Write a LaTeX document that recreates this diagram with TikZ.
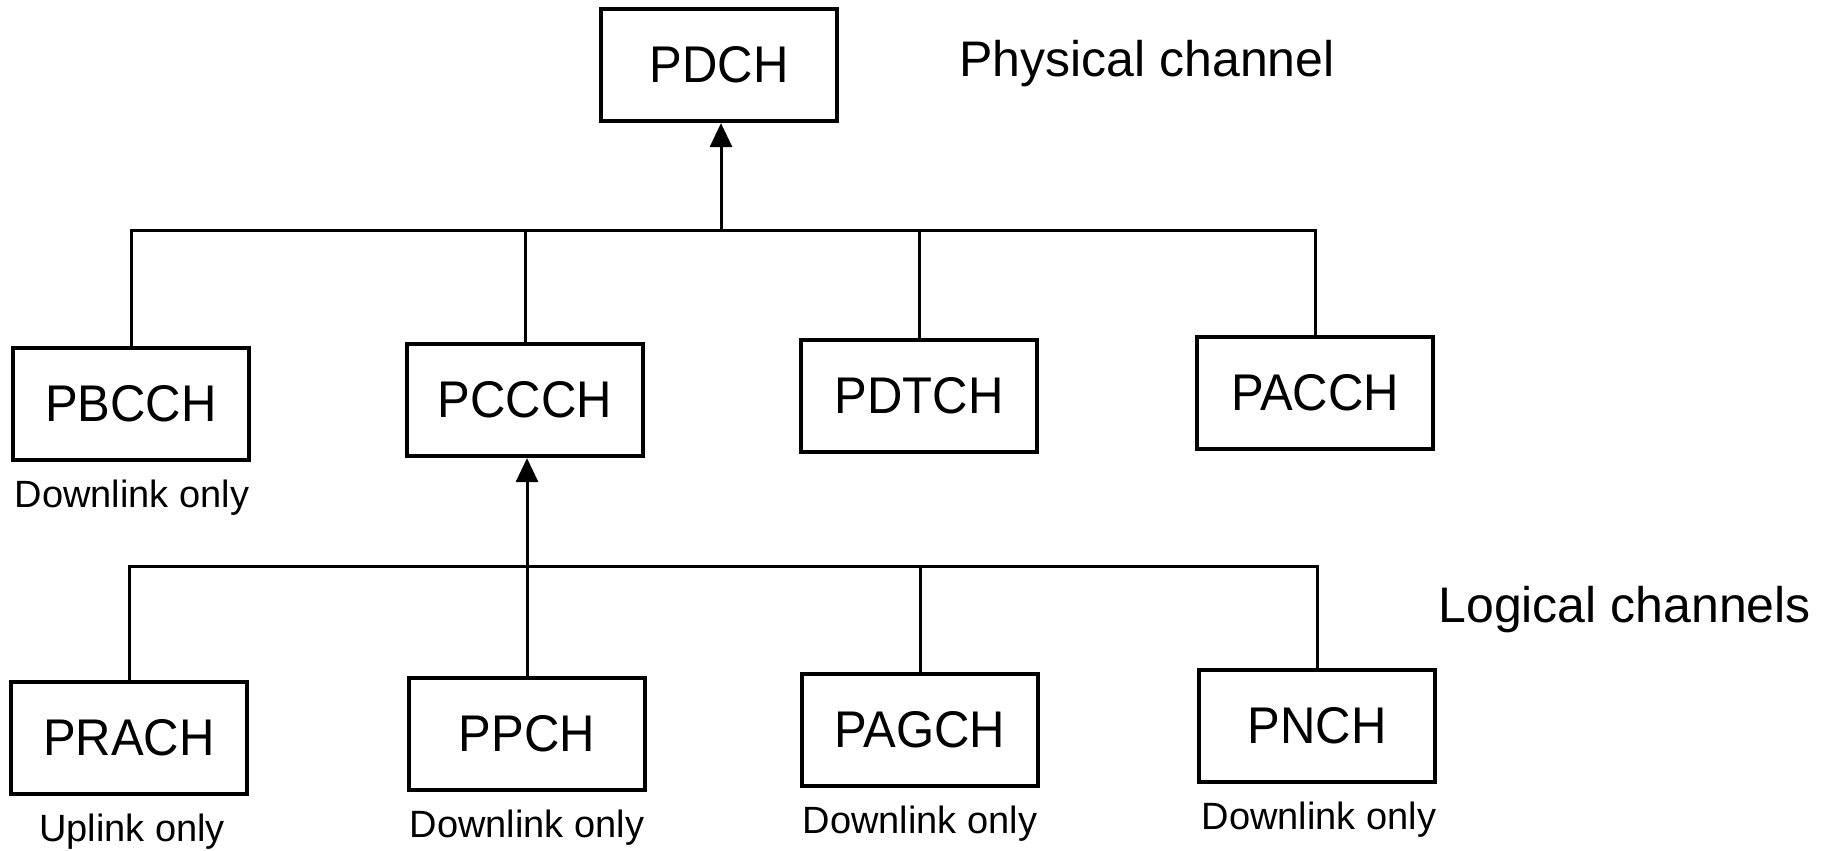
\documentclass[tikz,border=0pt]{standalone}
\usepackage{fontspec}
\setmainfont{Liberation Sans}
\newfontfamily\boxfont{Liberation Sans}[FakeStretch=0.95]
\usetikzlibrary{arrows.meta}
\begin{document}
\begin{tikzpicture}[x=0.5pt,y=-0.5pt,
  chbox/.style={draw,line width=2.1pt,minimum width=118pt,minimum height=56pt,inner sep=0pt,font=\boxfont\fontsize{25.8}{30}\selectfont},
  note/.style={font=\fontsize{19}{23}\selectfont,inner sep=0pt},
  side/.style={font=\fontsize{25}{30}\selectfont,inner sep=0pt,anchor=west},
  link/.style={line width=1.5pt},
  uparrow/.style={link,-{Triangle[length=12pt,width=11pt]}}]
\useasboundingbox (0,0) rectangle (1838,851);

% physical channel
\node[chbox] (pdch) at (719,65) {PDCH};
\node[side] (phys) at (959,64) {Physical channel};

% packet control channels
\node[chbox] (pbcch) at (131,404) {PBCCH};
\node[chbox] (pccch) at (525,400) {PCCCH};
\node[chbox] (pdtch) at (919,396) {PDTCH};
\node[chbox] (pacch) at (1315,393) {PACCH};
\node[note] (pbcchnote) at (132,498) {Downlink only};

% common control channels
\node[chbox] (prach) at (129,738) {PRACH};
\node[chbox] (ppch) at (527,734) {PPCH};
\node[chbox] (pagch) at (920,730) {PAGCH};
\node[chbox] (pnch) at (1317,726) {PNCH};
\node[note] (prachnote) at (132,832) {Uplink only};
\node[note] (ppchnote) at (527,828) {Downlink only};
\node[note] (pagchnote) at (920,824) {Downlink only};
\node[note] (pnchnote) at (1319,820) {Downlink only};
\node[side] (logic) at (1438,610) {Logical channels};

% upper bus
\coordinate (bus1) at (721,230);
\draw[link] (pbcch.north) -- (pbcch.north |- bus1) -- (pacch.north |- bus1) -- (pacch.north);
\draw[link] (pccch.north) -- (pccch.north |- bus1);
\draw[link] (pdtch.north) -- (pdtch.north |- bus1);
\draw[uparrow] (bus1) -- (bus1 |- pdch.south);

% lower bus
\coordinate (bus2) at (527,566);
\draw[link] (prach.north) -- (prach.north |- bus2) -- (pnch.north |- bus2) -- (pnch.north);
\draw[link] (pagch.north) -- (pagch.north |- bus2);
\draw[uparrow] (ppch.north) -- (ppch.north |- pccch.south);
\end{tikzpicture}
\end{document}
